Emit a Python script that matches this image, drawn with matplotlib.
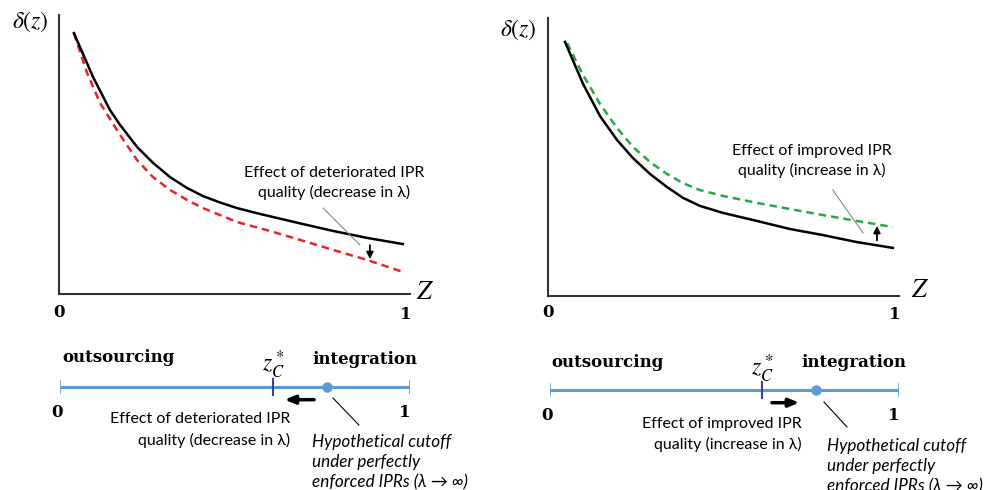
import matplotlib
matplotlib.use('Agg')
import matplotlib.pyplot as plt
import numpy as np

plt.rcParams['mathtext.fontset'] = 'stix'

# curves (z, delta), both panels scaled to 0..1
z_left = [0.043, 0.098, 0.147, 0.176, 0.225, 0.271, 0.320, 0.369, 0.415, 0.464, 0.513, 0.579, 0.695, 0.790, 0.888, 0.991]
base_left = [0.935, 0.778, 0.659, 0.606, 0.527, 0.470, 0.419, 0.380, 0.351, 0.328, 0.308, 0.287, 0.253, 0.226, 0.201, 0.179]
z_red = [0.043, 0.081, 0.118, 0.176, 0.225, 0.271, 0.320, 0.369, 0.415, 0.464, 0.513, 0.599, 0.695, 0.790, 0.888, 0.991]
low_red = [0.935, 0.792, 0.685, 0.570, 0.480, 0.419, 0.373, 0.337, 0.308, 0.283, 0.258, 0.229, 0.194, 0.158, 0.122, 0.079]

z_right = [0.049, 0.101, 0.150, 0.199, 0.245, 0.294, 0.343, 0.389, 0.438, 0.504, 0.602, 0.697, 0.793, 0.890, 0.994]
base_right = [0.914, 0.763, 0.647, 0.561, 0.496, 0.439, 0.392, 0.353, 0.324, 0.299, 0.270, 0.241, 0.219, 0.194, 0.173]
z_green = [0.055, 0.101, 0.150, 0.199, 0.245, 0.294, 0.343, 0.389, 0.438, 0.504, 0.602, 0.697, 0.793, 0.890, 0.994]
high_green = [0.910, 0.795, 0.691, 0.604, 0.536, 0.482, 0.439, 0.406, 0.381, 0.360, 0.335, 0.313, 0.291, 0.270, 0.248]

# number lines: cutoff z_C* and hypothetical cutoff
zc_cut = [0.609, 0.607]
perfect_cut = [0.763, 0.762]

text_font = 'Lato'
serif_font = 'DejaVu Serif'
line_blue = '#5B9BD5'
tick_blue = '#3A3F9E'

fig = plt.figure(figsize=(9.88, 4.9), dpi=100)


def top_panel(rect, zs, ys, z2, y2, col2):
    ax = fig.add_axes(rect)
    ax.plot(z2, y2, color=col2, lw=1.8, ls=(0, (3, 2)))
    ax.plot(zs, ys, color='black', lw=1.8)
    ax.set_xlim(0, 1.0115)
    ax.set_ylim(0, 1)
    for s in ['top', 'right']:
        ax.spines[s].set_visible(False)
    for s in ['left', 'bottom']:
        ax.spines[s].set_color('#333333')
        ax.spines[s].set_linewidth(1.5)
    ax.set_xticks([])
    ax.set_yticks([])
    return ax


ax1 = top_panel([59 / 988, (490 - 294) / 490, 351 / 988, 279 / 490],
                z_left, base_left, z_red, low_red, '#EE2222')
ax1.text(-0.084, 0.975, r'$\delta(z)$', fontsize=17, ha='center', va='center')
ax1.text(1.055, 0.007, r'$Z$', fontsize=19, ha='center', va='center', clip_on=False)
ax1.text(0, -0.065, '0', fontsize=12, fontweight='bold', family=serif_font, ha='center', va='center')
ax1.text(1.0, -0.075, '1', fontsize=12, fontweight='bold', family=serif_font, ha='center', va='center')
ax1.text(0.793, 0.398, 'Effect of deteriorated IPR\nquality (decrease in λ)', family=text_font,
         fontsize=11.5, ha='center', va='center', linespacing=1.35, clip_on=False)
ax1.plot([0.761, 0.867], [0.308, 0.176], color='#888888', lw=0.8)
ax1.annotate('', xy=(0.896, 0.115), xytext=(0.896, 0.185),
             arrowprops=dict(arrowstyle='-|>,head_width=0.2,head_length=0.4', color='black', lw=1.3))

ax2 = top_panel([548 / 988, (490 - 296) / 490, 351 / 988, 278 / 490],
                z_right, base_right, z_green, high_green, '#22AA44')
ax2.text(-0.086, 0.957, r'$\delta(z)$', fontsize=17, ha='center', va='center')
ax2.text(1.072, 0.02, r'$Z$', fontsize=19, ha='center', va='center', clip_on=False)
ax2.text(0, -0.061, '0', fontsize=12, fontweight='bold', family=serif_font, ha='center', va='center')
ax2.text(1.0, -0.068, '1', fontsize=12, fontweight='bold', family=serif_font, ha='center', va='center')
ax2.text(0.761, 0.486, 'Effect of improved IPR\nquality (increase in λ)', family=text_font,
         fontsize=11.5, ha='center', va='center', linespacing=1.4)
ax2.plot([0.821, 0.908], [0.381, 0.227], color='#888888', lw=0.8)
ax2.annotate('', xy=(0.948, 0.262), xytext=(0.948, 0.19),
             arrowprops=dict(arrowstyle='-|>,head_width=0.2,head_length=0.4', color='black', lw=1.3))


def number_line(rect, i, yline, labels, effect, arrow_from, arrow_to, lead, effect_xy, hyp_xy):
    ax = fig.add_axes(rect)
    ax.set_xlim(0, 1)
    ax.set_ylim(0, 1)
    ax.axis('off')
    ax.plot([0, 1], [yline, yline], color=line_blue, lw=2.2, solid_capstyle='butt')
    for e in [0, 1]:
        ax.plot([e, e], [yline - 0.04, yline + 0.04], color=line_blue, lw=1.2)
    ax.plot([zc_cut[i], zc_cut[i]], [yline - 0.055, yline + 0.055], color=tick_blue, lw=1.5)
    ax.plot([perfect_cut[i]], [yline], 'o', color=line_blue, ms=6.5)
    o, g, zl = labels
    ax.text(o[0], o[1], 'outsourcing', family=serif_font, fontweight='bold', fontsize=12,
            ha='left', va='center', clip_on=False)
    ax.text(g[0], g[1], 'integration', family=serif_font, fontweight='bold', fontsize=12,
            ha='left', va='center', clip_on=False)
    ax.text(zc_cut[i], zl, r'$z_C^*$', fontsize=17, ha='center', va='center', clip_on=False)
    ax.text(-0.01, yline - 0.17, '0', family=serif_font, fontweight='bold', fontsize=12,
            ha='center', va='center', clip_on=False)
    ax.text(0.986, yline - 0.17, '1', family=serif_font, fontweight='bold', fontsize=12,
            ha='center', va='center', clip_on=False)
    ax.annotate('', xy=(arrow_to, yline - 0.085), xytext=(arrow_from, yline - 0.085),
                arrowprops=dict(arrowstyle='-|>,head_width=0.25,head_length=0.6', color='black', lw=2.5))
    ax.plot(lead[0], lead[1], color='black', lw=0.8, clip_on=False)
    ax.text(effect_xy[0], effect_xy[1], effect, family=text_font, fontsize=11.5, ha='right',
            va='center', multialignment='right', linespacing=1.5, clip_on=False)
    ax.text(hyp_xy[0], hyp_xy[1], 'Hypothetical cutoff\nunder perfectly\nenforced IPRs (λ → ∞)',
            family=text_font, fontsize=12.3, style='italic', ha='left', va='center',
            linespacing=1.32, clip_on=False)
    return ax


number_line([60 / 988, 0, 350 / 988, 150 / 490], 0, 0.687,
            [(0.006, 0.88), (0.72, 0.867), 0.833],
            'Effect of deteriorated IPR\nquality (decrease in λ)', 0.734, 0.634,
            ([0.78, 0.854], [0.613, 0.433]), (0.657, 0.4), (0.72, 0.187))

number_line([550 / 988, 0, 349 / 988, 150 / 490], 1, 0.667,
            [(0.003, 0.853), (0.719, 0.847), 0.81],
            'Effect of improved IPR\nquality (increase in λ)', 0.628, 0.722,
            ([0.785, 0.851], [0.587, 0.42]), (0.722, 0.373), (0.794, 0.16))

fig.savefig('out.png', dpi=100)
